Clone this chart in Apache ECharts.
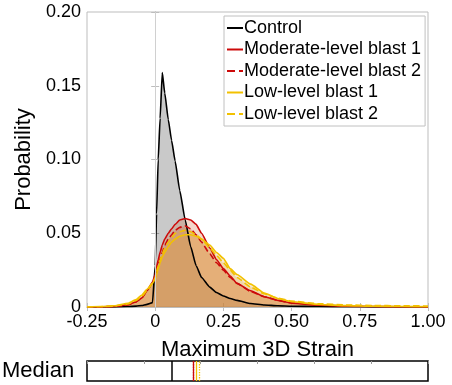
<!DOCTYPE html>
<html style="height: 100%">
<head>
<meta charset="utf-8">
</head>
<body style="height: 100%; margin: 0; background: #fff">
	<div id="container" style="width: 452px; height: 385px"></div>
	<script type="text/javascript" src="https://cdn.jsdelivr.net/npm/echarts@6/dist/echarts.min.js"></script>
	<script type="text/javascript">
		// strain grid shared by all curves
		var strain = [-0.25, -0.2, -0.15, -0.1, -0.07, -0.05, -0.03, -0.01, 0, 0.005, 0.011, 0.018, 0.026, 0.035, 0.048, 0.06, 0.073, 0.09, 0.11, 0.13, 0.15, 0.17, 0.2, 0.225, 0.25, 0.275, 0.3, 0.35, 0.4, 0.45, 0.5, 0.6, 0.7, 0.8, 0.9, 1.0];
		var control = [0, 0, 0.0001, 0.0003, 0.0006, 0.001, 0.0018, 0.003, 0.028, 0.063, 0.10, 0.128, 0.159, 0.145, 0.127, 0.113, 0.099, 0.079, 0.059, 0.041, 0.028, 0.020, 0.0135, 0.0098, 0.0075, 0.0058, 0.0045, 0.0024, 0.0014, 0.0008, 0.0005, 0.0003, 0.0002, 0.0001, 0.0001, 0];
		var moderate1 = [0, 0.0001, 0.0004, 0.0015, 0.0035, 0.006, 0.011, 0.017, 0.022, 0.027, 0.032, 0.037, 0.042, 0.046, 0.050, 0.053, 0.056, 0.059, 0.060, 0.059, 0.056, 0.050, 0.040, 0.032, 0.026, 0.021, 0.016, 0.011, 0.007, 0.0045, 0.0026, 0.0012, 0.0006, 0.0003, 0.0002, 0.0001];
		var moderate2 = [0, 0.0001, 0.0004, 0.0015, 0.0035, 0.006, 0.011, 0.016, 0.020, 0.024, 0.029, 0.033, 0.037, 0.042, 0.046, 0.049, 0.052, 0.054, 0.055, 0.053, 0.049, 0.044, 0.036, 0.030, 0.025, 0.020, 0.016, 0.0105, 0.007, 0.0045, 0.0028, 0.0013, 0.0007, 0.0004, 0.0002, 0.0001];
		var low1 = [0.0001, 0.0003, 0.0008, 0.0025, 0.005, 0.008, 0.012, 0.016, 0.019, 0.022, 0.026, 0.030, 0.034, 0.037, 0.041, 0.044, 0.046, 0.048, 0.049, 0.049, 0.048, 0.046, 0.042, 0.037, 0.033, 0.026, 0.022, 0.0155, 0.0095, 0.0058, 0.0036, 0.0017, 0.0009, 0.0005, 0.0003, 0.0002];
		var low2 = [0.0001, 0.0002, 0.0006, 0.002, 0.0045, 0.007, 0.011, 0.016, 0.020, 0.024, 0.028, 0.032, 0.036, 0.040, 0.044, 0.047, 0.050, 0.051, 0.052, 0.051, 0.049, 0.046, 0.040, 0.035, 0.030, 0.025, 0.020, 0.0135, 0.009, 0.006, 0.004, 0.0022, 0.0014, 0.001, 0.0008, 0.0007];
		// medians: control, moderate 1, moderate 2, low 1, low 2
		var medians = [0.058, 0.139, 0.141, 0.151, 0.157];

		var names = ['Control', 'Moderate-level blast 1', 'Moderate-level blast 2', 'Low-level blast 1', 'Low-level blast 2'];
		var lineColors = ['#000000', '#cc0a0a', '#cc0a0a', '#f2c100', '#f2c100'];
		var lineTypes = ['solid', 'solid', 'dashed', 'solid', 'dashed'];
		var fillColors = ['rgba(0,0,0,0.21)', 'rgba(210,100,50,0.25)', 'rgba(210,100,50,0.25)', 'rgba(225,165,65,0.25)', 'rgba(225,165,65,0.25)'];
		var curves = [control, moderate1, moderate2, low1, low2];
		var font = 'Arial, "Liberation Sans", sans-serif';

		function pairs(ys) {
			var out = [];
			for (var i = 0; i < strain.length; i++) {
				out.push([strain[i], ys[i]]);
			}
			return out;
		}
		function fmt(v) {
			if (v === 0) return '0';
			return v.toFixed(2);
		}

		var dom = document.getElementById("container");
		var myChart = echarts.init(dom);

		var series = [];
		// light line at zero strain
		series.push({
			type: 'line', xAxisIndex: 0, yAxisIndex: 0, data: [], silent: true,
			markLine: {
				silent: true, symbol: 'none', label: {show: false},
				lineStyle: {color: '#d0d0d0', type: 'solid', width: 1},
				data: [{xAxis: 0}]
			}
		});
		for (var i = 0; i < curves.length; i++) {
			series.push({
				name: names[i],
				type: 'line',
				xAxisIndex: 0,
				yAxisIndex: 0,
				showSymbol: false,
				symbol: 'none',
				smooth: 0.15,
				smoothMonotone: 'x',
				data: pairs(curves[i]),
				lineStyle: {color: lineColors[i], width: 1.6, type: lineTypes[i]},
				itemStyle: {color: lineColors[i]},
				areaStyle: {color: fillColors[i], opacity: 1, origin: 'start'}
			});
		}
		// median strip
		var medianLines = [];
		for (var j = 0; j < medians.length; j++) {
			medianLines.push({
				xAxis: medians[j],
				lineStyle: {color: lineColors[j], width: j === 0 ? 1.5 : 1.3, type: j === 2 || j === 4 ? 'dotted' : 'solid'}
			});
		}
		series.push({
			type: 'line', xAxisIndex: 2, yAxisIndex: 2, data: [], silent: true,
			markLine: {silent: true, symbol: 'none', label: {show: false}, data: medianLines}
		});

		var grayAxis = {lineStyle: {color: '#bdbdbd', width: 1}};
		var grayTick = {inside: true, length: 4, lineStyle: {color: '#bdbdbd'}};

		var option = {
			animation: false,
			textStyle: {fontFamily: font},
			grid: [
				{left: 87, right: 24, top: 12, bottom: 78, show: true, borderColor: '#bdbdbd', borderWidth: 1},
				{left: 87, right: 24, top: 361, height: 20, show: true, borderColor: '#000', borderWidth: 1.5}
			],
			legend: {
				data: names,
				orient: 'vertical',
				left: 224,
				top: 16,
				padding: [3, 4, 3, 2],
				itemGap: 3.5,
				itemWidth: 16,
				itemHeight: 14,
				backgroundColor: '#fff',
				borderColor: '#c0c0c0',
				borderWidth: 1,
				itemStyle: {opacity: 0},
				textStyle: {fontSize: 18, color: '#000', fontFamily: font, padding: [0, 0, 0, -4]}
			},
			xAxis: [
				{
					type: 'value', gridIndex: 0, min: -0.25, max: 1, interval: 0.25,
					axisLine: grayAxis, axisTick: grayTick, splitLine: {show: false},
					axisLabel: {fontSize: 18, color: '#000', margin: 6, formatter: fmt, fontFamily: font},
					name: 'Maximum 3D Strain', nameLocation: 'middle', nameGap: 32,
					nameTextStyle: {fontSize: 22, color: '#000', fontFamily: font}
				},
				{
					type: 'value', gridIndex: 0, position: 'top', min: -0.25, max: 1, interval: 0.25,
					axisLine: grayAxis, axisTick: grayTick, axisLabel: {show: false}, splitLine: {show: false}
				},
				{
					type: 'value', gridIndex: 1, min: -0.25, max: 1,
					axisLine: {show: false}, axisTick: {show: false},
					axisLabel: {show: false}, splitLine: {show: false}
				},
				{
					// tick marks of the median strip
					type: 'value', gridIndex: 1, min: 0, max: 6, interval: 1,
					axisLine: {show: false}, axisTick: {inside: true, length: 3, lineStyle: {color: '#999'}},
					axisLabel: {show: false}, splitLine: {show: false}
				}
			],
			yAxis: [
				{
					type: 'value', gridIndex: 0, min: 0, max: 0.2, interval: 0.05,
					axisLine: grayAxis, axisTick: grayTick, splitLine: {show: false},
					axisLabel: {fontSize: 18, color: '#000', margin: 6, formatter: fmt, fontFamily: font},
					name: 'Probability', nameLocation: 'middle', nameGap: 46,
					nameTextStyle: {fontSize: 22, color: '#000', fontFamily: font}
				},
				{
					type: 'value', gridIndex: 0, position: 'right', min: 0, max: 0.2, interval: 0.05,
					axisLine: grayAxis, axisTick: grayTick, axisLabel: {show: false}, splitLine: {show: false}
				},
				{
					type: 'value', gridIndex: 1, min: 0, max: 1,
					axisLine: {show: false}, axisTick: {show: false}, axisLabel: {show: false}, splitLine: {show: false}
				}
			],
			graphic: [
				{
					type: 'text', left: 2, top: 360,
					style: {text: 'Median', fontSize: 22, fill: '#000', fontFamily: font}
				}
			],
			series: series
		};
		myChart.setOption(option);
	</script>
</body>
</html>
